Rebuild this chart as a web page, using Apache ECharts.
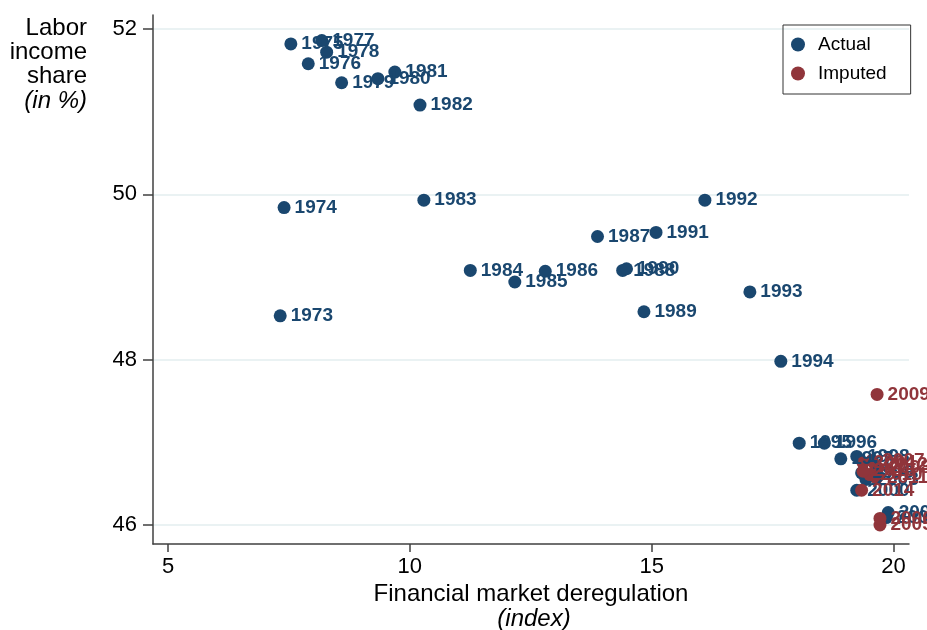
<!DOCTYPE html>
<html>
<head>
<meta charset="utf-8">
<script src="https://cdn.jsdelivr.net/npm/echarts@6/dist/echarts.min.js"></script>
<style>
  html, body { margin: 0; padding: 0; background: #fff; }
  #chart { width: 927px; height: 630px; }
</style>
</head>
<body>
<div id="chart"></div>
<script>
// values
const actualYears = [1973, 1974, 1975, 1976, 1977, 1978, 1979, 1980, 1981, 1982,
  1983, 1984, 1985, 1986, 1987, 1988, 1989, 1990, 1991, 1992,
  1993, 1994, 1995, 1996, 1997, 1998, 1999, 2000, 2001, 2002, 2003];
const actualX = [7.32, 7.40, 7.54, 7.90, 8.18, 8.28, 8.59, 9.34, 9.69, 10.21,
  10.29, 11.25, 12.17, 12.80, 13.88, 14.40, 14.84, 14.48, 15.09, 16.10,
  17.03, 17.67, 18.05, 18.57, 18.91, 19.24, 19.34, 19.24, 19.89, 19.85, 19.43];
const actualY = [48.53, 49.84, 51.82, 51.58, 51.86, 51.72, 51.35, 51.40, 51.48, 51.08,
  49.93, 49.08, 48.94, 49.07, 49.49, 49.08, 48.58, 49.10, 49.54, 49.93,
  48.82, 47.98, 46.99, 46.99, 46.80, 46.83, 46.63, 46.42, 46.15, 46.09, 46.55];

const imputedYears = [2004, 2005, 2006, 2007, 2008, 2009, 2010, 2011, 2012, 2013, 2014];
const imputedX = [19.37, 19.72, 19.72, 19.55, 19.68, 19.66, 19.51, 19.65, 19.62, 19.37, 19.34];
const imputedY = [46.75, 46.00, 46.08, 46.78, 46.69, 47.58, 46.61, 46.57, 46.73, 46.65, 46.42];

const xTicks = [5, 10, 15, 20];
const yTicks = [46, 48, 50, 52];

const navy = "#1a476f";
const maroon = "#90353b";
const font = "Liberation Sans";

function points(xs, ys, years) {
  return xs.map((x, i) => [x, ys[i], years[i]]);
}

function scatter(name, color, data) {
  return {
    name: name,
    type: "scatter",
    data: data,
    symbolSize: 13,
    itemStyle: { color: color, opacity: 1 },
    label: {
      show: true,
      position: "right",
      distance: 4,
      formatter: (p) => String(p.value[2]),
      color: color,
      fontFamily: font,
      fontWeight: "bold",
      fontSize: 19,
    },
    emphasis: { disabled: true },
  };
}

function title(text, x, y, align, italic) {
  return {
    type: "text",
    x: x,
    y: y,
    style: {
      text: text,
      fontSize: 24,
      fill: "#000",
      fontFamily: font,
      fontStyle: italic ? "italic" : "normal",
      align: align,
      verticalAlign: "middle",
    },
  };
}

const chart = echarts.init(document.getElementById("chart"));

const actualSeries = scatter("Actual", navy, points(actualX, actualY, actualYears));
// horizontal grid lines at the y ticks
actualSeries.markLine = {
  silent: true,
  symbol: "none",
  label: { show: false },
  lineStyle: { color: "#eaf2f3", width: 2, type: "solid" },
  data: yTicks.map((v) => ({ yAxis: v })),
  z: 0,
};

let option = {
  animation: false,
  textStyle: { fontFamily: font },
  grid: { left: 153, right: 18, top: 15, bottom: 86 },
  xAxis: {
    type: "value",
    min: 4.69,
    max: 20.32,
    axisLine: { show: true, onZero: false, lineStyle: { color: "#404040", width: 1.5 } },
    axisTick: { show: true, customValues: xTicks, length: 8, lineStyle: { color: "#404040", width: 1.5 } },
    axisLabel: { customValues: xTicks, color: "#000", fontSize: 22, margin: 12 },
    splitLine: { show: false },
  },
  yAxis: {
    type: "value",
    min: 45.77,
    max: 52.17,
    axisLine: { show: true, onZero: false, lineStyle: { color: "#404040", width: 1.5 } },
    axisTick: { show: true, customValues: yTicks, length: 10, lineStyle: { color: "#404040", width: 1.5 } },
    axisLabel: { customValues: yTicks, color: "#000", fontSize: 22, margin: 16 },
    splitLine: { show: false },
  },
  legend: {
    orient: "vertical",
    left: 783,
    top: 25,
    padding: [10, 24, 11, 8],
    itemGap: 10,
    itemWidth: 14,
    itemHeight: 14,
    icon: "circle",
    borderColor: "#333",
    borderWidth: 1,
    textStyle: { fontSize: 19, color: "#000", padding: [0, 0, 0, 8] },
    data: ["Actual", "Imputed"],
  },
  graphic: [
    title("Labor", 87, 28, "right", false),
    title("income", 87, 52, "right", false),
    title("share", 87, 76, "right", false),
    title("(in %)", 87, 101, "right", true),
    title("Financial market deregulation", 531, 594, "center", false),
    title("(index)", 534, 619, "center", true),
  ],
  series: [
    actualSeries,
    scatter("Imputed", maroon, points(imputedX, imputedY, imputedYears)),
  ],
};

chart.setOption(option);
</script>
</body>
</html>
